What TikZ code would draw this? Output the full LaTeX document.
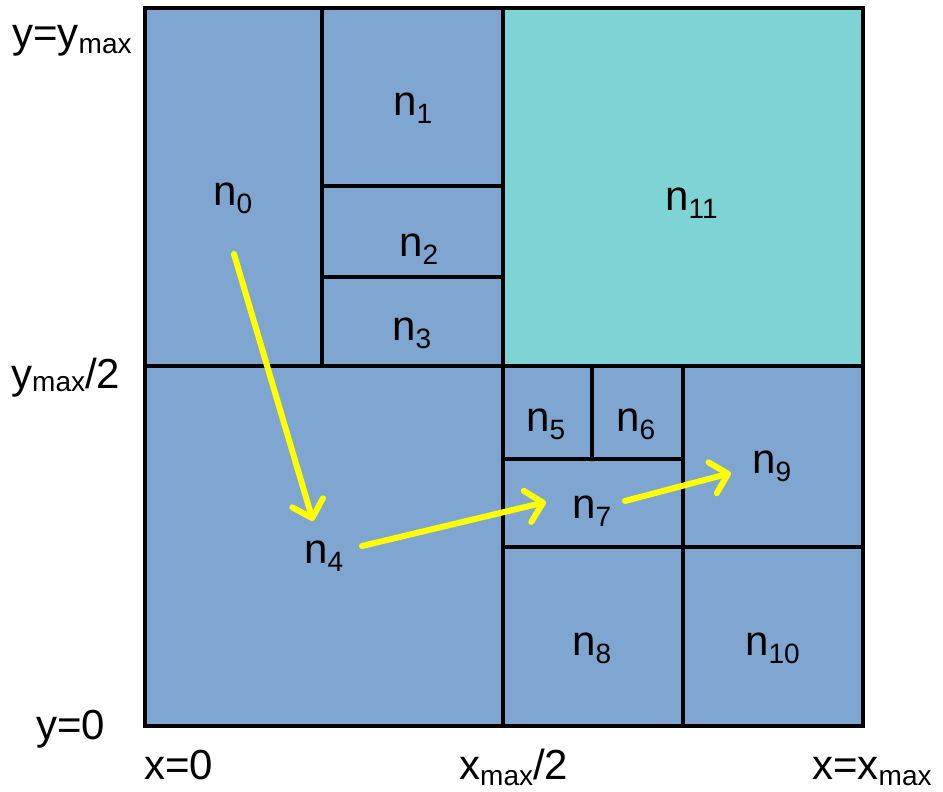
\documentclass[tikz,border=0pt]{standalone}
\usepackage{fontspec}
\setmainfont{Liberation Sans}
\usetikzlibrary{arrows.meta}
\definecolor{cellblue}{RGB}{127,166,208}
\definecolor{cellteal}{RGB}{126,212,212}
\definecolor{arrowyellow}{RGB}{255,255,0}
\newcommand{\sbs}[2][8pt]{\raisebox{-#1}{\fontsize{28}{28}\selectfont #2}}
\begin{document}
\begin{tikzpicture}[x=1pt,y=-1pt,
  cell/.style={draw=black,line width=4.5pt,fill=cellblue},
  tealcell/.style={draw=black,line width=4.5pt,fill=cellteal},
  lab/.style={font=\fontsize{42}{48}\selectfont, inner sep=0pt, anchor=base west},
  flow/.style={draw=arrowyellow, line width=6pt, line cap=round, line join=round,
    -{Straight Barb[length=16pt,width=32pt,line cap=round,line join=round]}}]
\useasboundingbox (0,0) rectangle (943,792);
% cells
\draw[cell] (145,8) rectangle (322,366);
\draw[cell] (322,8) rectangle (503,186);
\draw[cell] (322,186) rectangle (503,277);
\draw[cell] (322,277) rectangle (503,366);
\draw[tealcell] (503,8) rectangle (863,366);
\draw[cell] (145,366) rectangle (503,726);
\draw[cell] (503,366) rectangle (592,459);
\draw[cell] (592,366) rectangle (683,459);
\draw[cell] (503,459) rectangle (683,547);
\draw[cell] (683,366) rectangle (863,547);
\draw[cell] (503,547) rectangle (683,726);
\draw[cell] (683,547) rectangle (863,726);
% cell labels
\node[lab] (n0) at (213,205) {n\sbs{0}};
\node[lab] (n1) at (393,115) {n\sbs{1}};
\node[lab] (n2) at (399,256) {n\sbs{2}};
\node[lab] (n3) at (392,340) {n\sbs{3}};
\node[lab] (n11) at (665,210) {n\sbs{11}};
\node[lab] (n4) at (304,563) {n\sbs{4}};
\node[lab] (n5) at (526,431) {n\sbs{5}};
\node[lab] (n6) at (616,431) {n\sbs{6}};
\node[lab] (n7) at (572,518) {n\sbs{7}};
\node[lab] (n9) at (752,473) {n\sbs{9}};
\node[lab] (n8) at (572,655) {n\sbs{8}};
\node[lab] (n10) at (745,655) {n\sbs{10}};
% axis labels
\node[lab] (ymax) at (12,48) {y=y\sbs[6pt]{max}};
\node[lab] (yhalf) at (11,388) {y\sbs[3pt]{max}/2};
\node[lab] (yzero) at (36,739) {y=0};
\node[lab] (xzero) at (144,779) {x=0};
\node[lab] (xhalf) at (459,779) {x\sbs[6pt]{max}/2};
\node[lab] (xmax) at (812,779) {x=x\sbs[6pt]{max}};
% arrows
\coordinate (a0s) at (234,254);
\coordinate (a0e) at (313,521);
\coordinate (a4s) at (362,546);
\coordinate (a4e) at (546,502);
\coordinate (a7s) at (625,501);
\coordinate (a7e) at (731,473);
\draw[flow] (a0s) -- (a0e);
\draw[flow] (a4s) -- (a4e);
\draw[flow] (a7s) -- (a7e);
\end{tikzpicture}
\end{document}
